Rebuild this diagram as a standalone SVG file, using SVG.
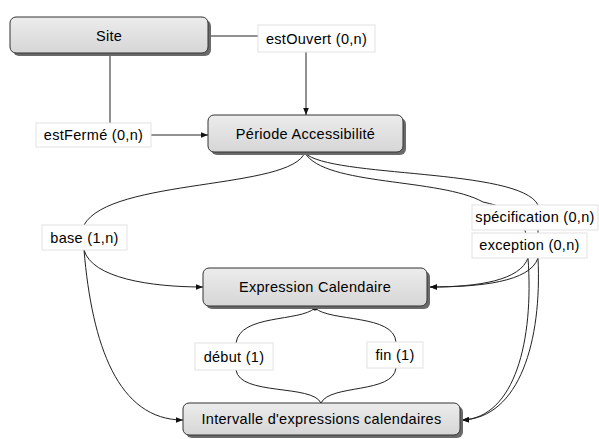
<svg xmlns="http://www.w3.org/2000/svg" width="599" height="439" viewBox="0 0 599 439">
  <style>
    .node .shadow { fill: #6a6a6a; }
    .node .body { fill: url(#nodeFill); stroke: #333; stroke-width: 1; }
    .node text, .label text { font-family: "Liberation Sans", Arial, sans-serif; font-size: 14.5px; letter-spacing: 0.3px; fill: #000; text-anchor: middle; dominant-baseline: central; }
    .label rect { fill: #fff; stroke: #e2e2e2; stroke-width: 1; }
    .edge { fill: none; stroke: #222; stroke-width: 1; }
    .arrow { marker-end: url(#arrowHead); }
  </style>
  <defs>
    <linearGradient id="nodeFill" x1="0" y1="0" x2="0" y2="1">
      <stop offset="0" stop-color="#ececec"/>
      <stop offset="1" stop-color="#d6d6d6"/>
    </linearGradient>
    <marker id="arrowHead" viewBox="0 0 8 8" refX="8" refY="4" markerWidth="7" markerHeight="7" orient="auto" markerUnits="userSpaceOnUse">
      <path d="M0,0.8 L8,4 L0,7.2 Z" fill="#111"/>
    </marker>
  </defs>

  <rect width="599" height="439" fill="#fff"/>

  <!-- connectors -->
  <g id="connectors">
    <!-- Site - estOuvert - Période -->
    <path class="edge" d="M208,36 L258,36"/>
    <path class="edge arrow" d="M306,52 L306,115"/>
    <!-- Site - estFermé - Période -->
    <path class="edge" d="M110,53 L110,123"/>
    <path class="edge arrow" d="M151,135 L208,135"/>
    <!-- base -->
    <path class="edge" d="M305,152 C292,190 110,178 84,225"/>
    <path class="edge arrow" d="M84,250 C92,278 150,287 203,287"/>
    <path class="edge arrow" d="M84,250 C92,345 118,420 183,420"/>
    <!-- spécification -->
    <path class="edge" d="M305,153 C330,178 520,168 538,205 L538,258"/>
    <path class="edge arrow" d="M538,258 C530,282 480,287 430,287"/>
    <path class="edge arrow" d="M538,258 C542,340 520,418 462,420"/>
    <!-- exception -->
    <path class="edge" d="M305,153 C325,186 440,178 483,202 C520,210 528,222 528,258"/>
    <path class="edge arrow" d="M528,258 C520,280 480,287 430,287"/>
    <path class="edge arrow" d="M528,258 C534,340 515,418 462,420"/>
    <!-- début / fin -->
    <path class="edge" d="M315,308 C300,322 240,314 236,343"/>
    <path class="edge" d="M315,308 C330,322 394,314 396,342"/>
    <path class="edge" d="M236,370 C240,396 312,384 321,403"/>
    <path class="edge" d="M396,368 C393,394 330,384 321,403"/>
    <circle cx="315" cy="308" r="2.5" fill="#111"/>
  </g>

  <!-- nodes -->
  <g id="site" class="node">
    <rect class="shadow" x="13" y="20" width="198" height="36" rx="6"/>
    <rect class="body" x="10" y="17" width="198" height="36" rx="6"/>
    <text x="109" y="36">Site</text>
  </g>
  <g id="periode" class="node">
    <rect class="shadow" x="211" y="118" width="195" height="37" rx="6"/>
    <rect class="body" x="208" y="115" width="195" height="37" rx="6"/>
    <text x="305.5" y="134">Période Accessibilité</text>
  </g>
  <g id="expression" class="node">
    <rect class="shadow" x="206" y="271" width="224" height="38" rx="6"/>
    <rect class="body" x="203" y="268" width="224" height="38" rx="6"/>
    <text x="315" y="287">Expression Calendaire</text>
  </g>
  <g id="intervalle" class="node">
    <rect class="shadow" x="186" y="406" width="277" height="32" rx="6"/>
    <rect class="body" x="183" y="403" width="277" height="32" rx="6"/>
    <text x="321.5" y="419">Intervalle d'expressions calendaires</text>
  </g>

  <!-- connector labels -->
  <g id="lbl-estOuvert" class="label">
    <rect x="258" y="25" width="117" height="27"/>
    <text x="316.5" y="39">estOuvert (0,n)</text>
  </g>
  <g id="lbl-estFerme" class="label">
    <rect x="36" y="123" width="115" height="24"/>
    <text x="93.5" y="135">estFermé (0,n)</text>
  </g>
  <g id="lbl-base" class="label">
    <rect x="42" y="225" width="85" height="25"/>
    <text x="84.5" y="238">base (1,n)</text>
  </g>
  <g id="lbl-specification" class="label">
    <rect x="472" y="205" width="126" height="25"/>
    <text x="535" y="217">spécification (0,n)</text>
  </g>
  <g id="lbl-exception" class="label">
    <rect x="472" y="233" width="115" height="25"/>
    <text x="529.5" y="245">exception (0,n)</text>
  </g>
  <g id="lbl-debut" class="label">
    <rect x="195" y="343" width="78" height="27"/>
    <text x="234" y="357">début (1)</text>
  </g>
  <g id="lbl-fin" class="label">
    <rect x="367" y="342" width="56" height="26"/>
    <text x="395" y="355">fin (1)</text>
  </g>
</svg>
